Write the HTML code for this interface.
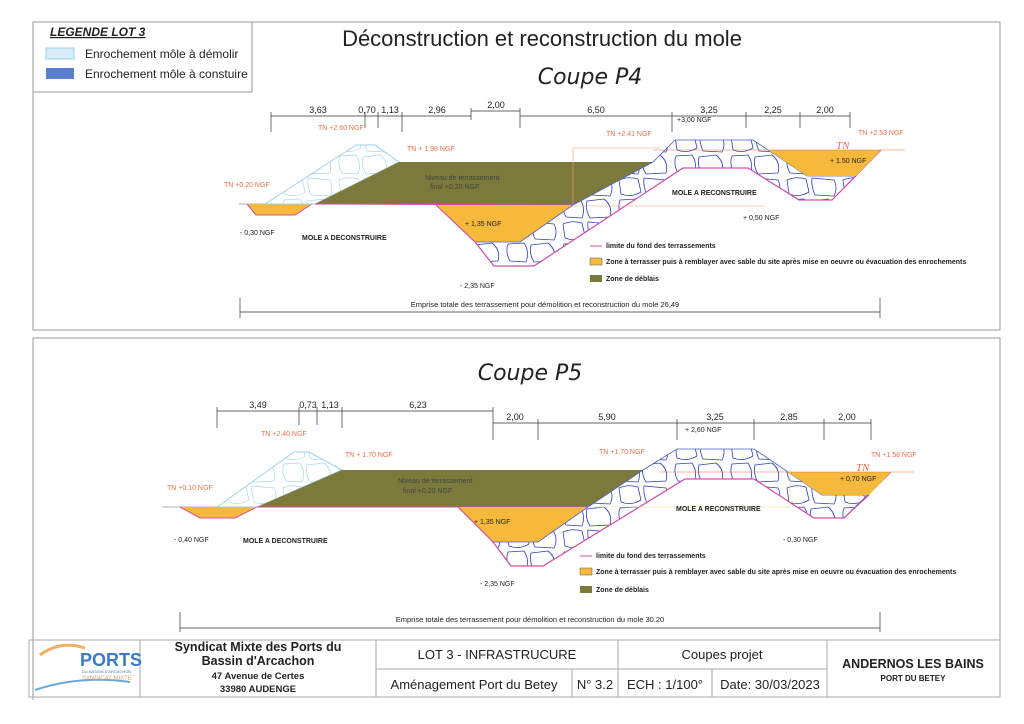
<!DOCTYPE html>
<html><head><meta charset="utf-8"><style>
html,body{margin:0;padding:0;background:#fff;}
svg{display:block;font-family:"Liberation Sans",sans-serif;}
.o{fill:#e8704a;font-size:7px;}
.k{fill:#222;font-size:7px;}
.b{fill:#222;font-size:7px;font-weight:bold;}
.d{fill:#222;font-size:9px;}
</style></head><body>
<svg width="1024" height="724" viewBox="0 0 1024 724" xmlns="http://www.w3.org/2000/svg">
<defs>
<pattern id="rk" patternUnits="userSpaceOnUse" width="56" height="44">
<rect width="56" height="44" fill="#fff"/>
<path d="M3 4 Q12 0 22 3 L25 16 Q15 22 5 18 Z M28 2 L50 4 Q54 12 50 20 L31 19 Q27 10 28 2 Z M4 24 L20 23 Q26 32 22 42 L6 41 Q1 32 4 24 Z M27 25 L44 23 Q53 30 50 41 L30 42 Q25 34 27 25 Z" fill="none" stroke="#2b3fb5" stroke-width="0.8"/>
</pattern>
<pattern id="rl" patternUnits="userSpaceOnUse" width="56" height="44">
<rect width="56" height="44" fill="#fff"/>
<path d="M3 4 Q12 0 22 3 L25 16 Q15 22 5 18 Z M28 2 L50 4 Q54 12 50 20 L31 19 Q27 10 28 2 Z M4 24 L20 23 Q26 32 22 42 L6 41 Q1 32 4 24 Z M27 25 L44 23 Q53 30 50 41 L30 42 Q25 34 27 25 Z" fill="none" stroke="#a8d6ee" stroke-width="0.7"/>
</pattern>
</defs>

<g stroke="#999" stroke-width="1" fill="none">
<path d="M33 22 H1000 V330 H33 Z"/>
<path d="M33 338 H1000 V640"/>
<path d="M33 338 V700"/>
</g>
<rect x="33" y="22" width="219" height="70" fill="#fff" stroke="#999"/>
<text x="50" y="36" font-size="12" font-weight="bold" font-style="italic" fill="#222" text-decoration="underline">LEGENDE LOT 3</text>
<rect x="46" y="48" width="28" height="11" fill="#d8ecf8" stroke="#9fd0ea"/>
<rect x="46" y="68" width="28" height="11" fill="#5b7fd0"/>
<text x="85" y="58" font-size="12" fill="#222">Enrochement môle à démolir</text>
<text x="85" y="78" font-size="12" fill="#222">Enrochement môle à constuire</text>

<text x="542" y="46" font-size="22" fill="#222" text-anchor="middle">Déconstruction et reconstruction du mole</text>
<text x="590" y="84" font-size="22" font-style="italic" fill="#222" text-anchor="middle" font-family="DejaVu Sans, sans-serif">Coupe P4</text>
<text x="530" y="380" font-size="22" font-style="italic" fill="#222" text-anchor="middle" font-family="DejaVu Sans, sans-serif">Coupe P5</text>

<!-- P4 -->
<g>
<line x1="239" y1="204" x2="320" y2="204" stroke="#999" stroke-width="0.8"/>
<polygon points="247,204 312,204 295,215 256,215" fill="#f6b93b"/>
<polyline points="247,204 256,215 295,215 312,204" fill="none" stroke="#d24fa8"/>
<polygon points="265,204 356,145 375,145 399,162 315,204" fill="url(#rl)" stroke="#9fd0ea"/>
<polygon points="315,204 399,162 653,162 573,205" fill="#7b7a3a"/>
<line x1="315" y1="204" x2="573" y2="205" stroke="#d24fa8"/>
<polygon points="436,205 573,205 520,242 475,242" fill="#f6b93b"/>
<polygon points="475,242 494,266 534,266 683,168 748,168 799,200 832,200 856,176 807,176 753,140 675,140 653,162 573,205 520,242" fill="url(#rk)" stroke="#4a5fc0" stroke-width="0.8"/>
<polyline points="436,205 475,242 494,266 534,266 683,168 748,168 799,200 832,200 881,150" fill="none" stroke="#d24fa8" stroke-width="1.2"/>
<polygon points="768,150 881,150 856,176 807,176" fill="#f6b93b"/>
<line x1="653" y1="150" x2="905" y2="150" stroke="#e8704a" stroke-width="0.6"/>
<path d="M573 148 V206 H765 M573 148 H660" fill="none" stroke="#e8a070" stroke-width="0.6"/>
<g stroke="#333" stroke-width="0.7" fill="none">
<line x1="271" y1="116" x2="471" y2="116"/>
<line x1="471" y1="111" x2="520" y2="111"/>
<line x1="520" y1="116" x2="850" y2="116"/>
<path d="M271 112 V132 M365 112 V128 M378 112 V128 M402 112 V132 M471 108 V120 M520 108 V128 M672 112 V132 M746 112 V128 M800 112 V128 M850 112 V128"/>
<line x1="240" y1="312" x2="880" y2="312"/>
<path d="M240 298 V318 M880 298 V318"/>
</g>
<text class="d" x="318" y="113" text-anchor="middle">3,63</text>
<text class="d" x="367" y="113" text-anchor="middle">0,70</text>
<text class="d" x="390" y="113" text-anchor="middle">1,13</text>
<text class="d" x="437" y="113" text-anchor="middle">2,96</text>
<text class="d" x="496" y="108" text-anchor="middle">2,00</text>
<text class="d" x="596" y="113" text-anchor="middle">6,50</text>
<text class="d" x="709" y="113" text-anchor="middle">3,25</text>
<text class="d" x="773" y="113" text-anchor="middle">2,25</text>
<text class="d" x="825" y="113" text-anchor="middle">2,00</text>
<text class="o" x="318" y="130">TN +2.60 NGF</text>
<text class="o" x="407" y="151">TN + 1.98 NGF</text>
<text class="o" x="224" y="187">TN +0.20 NGF</text>
<text class="o" x="606" y="136">TN +2.41 NGF</text>
<text class="o" x="858" y="135">TN +2.53 NGF</text>
<text x="836" y="149" font-size="11" font-style="italic" fill="#e8704a" font-family="Liberation Serif,serif">TN</text>
<text x="425" y="180" font-size="7" fill="#444">Niveau de terrassement</text>
<text x="430" y="189" font-size="7" fill="#444">final  +0.20 NGF</text>
<text class="k" x="240" y="235">- 0,30 NGF</text>
<text class="b" x="302" y="240">MOLE A DECONSTRUIRE</text>
<text class="k" x="465" y="226">+ 1,35 NGF</text>
<text class="k" x="460" y="288">- 2,35 NGF</text>
<text class="k" x="677" y="122">+3,00 NGF</text>
<text class="b" x="672" y="195">MOLE A RECONSTRUIRE</text>
<text class="k" x="743" y="220">+ 0,50 NGF</text>
<text class="k" x="830" y="163">+ 1.50 NGF</text>
<line x1="590" y1="246" x2="602" y2="246" stroke="#d24fa8"/>
<text class="b" x="606" y="248" font-size="6">limite du fond des terrassements</text>
<rect x="590" y="258" width="12" height="7" fill="#f6b93b" stroke="#555" stroke-width="0.5"/>
<text class="b" x="606" y="264" font-size="6">Zone à terrasser puis à remblayer avec sable du site après mise en oeuvre ou évacuation des enrochements</text>
<rect x="590" y="275" width="12" height="7" fill="#7b7a3a"/>
<text class="b" x="606" y="281" font-size="6">Zone de déblais</text>
<text x="545" y="307" font-size="7.5" fill="#222" text-anchor="middle">Emprise totale des terrassement pour démolition et reconstruction du mole      26,49</text>
</g>

<!-- P5 -->
<g>
<line x1="162" y1="507" x2="260" y2="507" stroke="#999" stroke-width="0.8"/>
<polygon points="180,507 257,507 235,518 200,518" fill="#f6b93b"/>
<polyline points="180,507 200,518 235,518 257,507" fill="none" stroke="#d24fa8"/>
<polygon points="217,507 294,452 309,452 342,470 257,507" fill="url(#rl)" stroke="#9fd0ea"/>
<polygon points="257,507 342,470 643,470 588,507" fill="#7b7a3a"/>
<line x1="257" y1="507" x2="588" y2="507" stroke="#d24fa8"/>
<polygon points="458,507 588,507 538,542 493,542" fill="#f6b93b"/>
<polygon points="493,542 511,566 543,566 685,479 754,479 814,518 844,518 869,495 822,495 754,449 677,449 643,470 588,507 538,542" fill="url(#rk)" stroke="#4a5fc0" stroke-width="0.8"/>
<polyline points="458,507 493,542 511,566 543,566 685,479 754,479 814,518 844,518 891,472" fill="none" stroke="#d24fa8" stroke-width="1.2"/>
<polygon points="788,472 891,472 869,495 822,495" fill="#f6b93b"/>
<line x1="660" y1="472" x2="915" y2="472" stroke="#e8704a" stroke-width="0.6"/>
<path d="M588 507 H790 V470" fill="none" stroke="#e6e070" stroke-width="0.6"/>
<g stroke="#333" stroke-width="0.7" fill="none">
<line x1="217" y1="411" x2="493" y2="411"/>
<line x1="493" y1="423" x2="871" y2="423"/>
<path d="M217 407 V428 M299 407 V425 M317 407 V425 M342 407 V428 M493 407 V440 M538 419 V440 M677 419 V440 M754 419 V440 M824 419 V440 M871 419 V440"/>
<line x1="180" y1="628" x2="880" y2="628"/>
<path d="M180 612 V632 M880 612 V632"/>
</g>
<text class="d" x="258" y="408" text-anchor="middle">3,49</text>
<text class="d" x="308" y="408" text-anchor="middle">0,73</text>
<text class="d" x="330" y="408" text-anchor="middle">1,13</text>
<text class="d" x="418" y="408" text-anchor="middle">6,23</text>
<text class="d" x="515" y="420" text-anchor="middle">2,00</text>
<text class="d" x="607" y="420" text-anchor="middle">5,90</text>
<text class="d" x="715" y="420" text-anchor="middle">3,25</text>
<text class="d" x="789" y="420" text-anchor="middle">2,85</text>
<text class="d" x="847" y="420" text-anchor="middle">2,00</text>
<text class="o" x="261" y="436">TN +2.40 NGF</text>
<text class="o" x="345" y="457">TN + 1.70 NGF</text>
<text class="o" x="167" y="490">TN +0.10 NGF</text>
<text class="o" x="599" y="454">TN +1.70 NGF</text>
<text class="o" x="871" y="457">TN +1.58 NGF</text>
<text x="856" y="471" font-size="11" font-style="italic" fill="#e8704a" font-family="Liberation Serif,serif">TN</text>
<text x="398" y="483" font-size="7" fill="#444">Niveau de terrassement</text>
<text x="403" y="493" font-size="7" fill="#444">final  +0.20 NGF</text>
<text class="k" x="174" y="542">- 0,40 NGF</text>
<text class="b" x="243" y="543">MOLE A DECONSTRUIRE</text>
<text class="k" x="474" y="524">+ 1,35 NGF</text>
<text class="k" x="480" y="586">- 2,35 NGF</text>
<text class="k" x="685" y="432">+ 2,60 NGF</text>
<text class="b" x="676" y="511">MOLE A RECONSTRUIRE</text>
<text class="k" x="783" y="542">- 0,30 NGF</text>
<text class="k" x="840" y="481">+ 0,70 NGF</text>
<line x1="580" y1="556" x2="592" y2="556" stroke="#d24fa8"/>
<text class="b" x="596" y="558" font-size="6">limite du fond des terrassements</text>
<rect x="580" y="568" width="12" height="7" fill="#f6b93b" stroke="#555" stroke-width="0.5"/>
<text class="b" x="596" y="574" font-size="6">Zone à terrasser puis à remblayer avec sable du site après mise en oeuvre ou évacuation des enrochements</text>
<rect x="580" y="586" width="12" height="7" fill="#7b7a3a"/>
<text class="b" x="596" y="592" font-size="6">Zone de déblais</text>
<text x="530" y="622" font-size="7.5" fill="#222" text-anchor="middle">Emprise totale des terrassement pour démolition et reconstruction du mole 30.20</text>
</g>

<g stroke="#aaa" stroke-width="1" fill="none">
<rect x="29" y="640" width="971" height="57"/>
<path d="M140 640 V697 M376 640 V697 M827 640 V697 M618 640 V697 M376 669 H827 M572 669 V697 M712 669 V697"/>
</g>
<path d="M40 655 Q60 640 85 648" stroke="#f2b060" stroke-width="3" fill="none"/>
<path d="M35 690 Q80 675 130 682" stroke="#6aa8d8" stroke-width="2" fill="none"/>
<text x="80" y="666" font-size="18" fill="#3a7cc8" font-weight="bold">PORTS</text>
<text x="82" y="673" font-size="4" fill="#3a7cc8">DU BASSIN D'ARCACHON</text>
<text x="82" y="680" font-size="6" fill="#e8a070">SYNDICAT MIXTE</text>
<text x="258" y="651" font-size="12.5" font-weight="bold" fill="#222" text-anchor="middle">Syndicat Mixte des Ports du</text>
<text x="258" y="665" font-size="12.5" font-weight="bold" fill="#222" text-anchor="middle">Bassin d'Arcachon</text>
<text x="258" y="679" font-size="9.5" font-weight="bold" fill="#222" text-anchor="middle">47 Avenue de Certes</text>
<text x="258" y="692" font-size="9.5" font-weight="bold" fill="#222" text-anchor="middle">33980 AUDENGE</text>
<text x="497" y="659" font-size="13" fill="#222" text-anchor="middle">LOT 3 - INFRASTRUCURE</text>
<text x="722" y="659" font-size="13" fill="#222" text-anchor="middle">Coupes projet</text>
<text x="474" y="689" font-size="13" fill="#222" text-anchor="middle">Aménagement Port du Betey</text>
<text x="595" y="689" font-size="13" fill="#222" text-anchor="middle">N° 3.2</text>
<text x="665" y="689" font-size="13" fill="#222" text-anchor="middle">ECH :  1/100°</text>
<text x="770" y="689" font-size="13" fill="#222" text-anchor="middle">Date:  30/03/2023</text>
<text x="913" y="668" font-size="12.5" font-weight="bold" fill="#222" text-anchor="middle">ANDERNOS LES BAINS</text>
<text x="913" y="681" font-size="8" font-weight="bold" fill="#222" text-anchor="middle">PORT DU BETEY</text>
</svg>
</body></html>
